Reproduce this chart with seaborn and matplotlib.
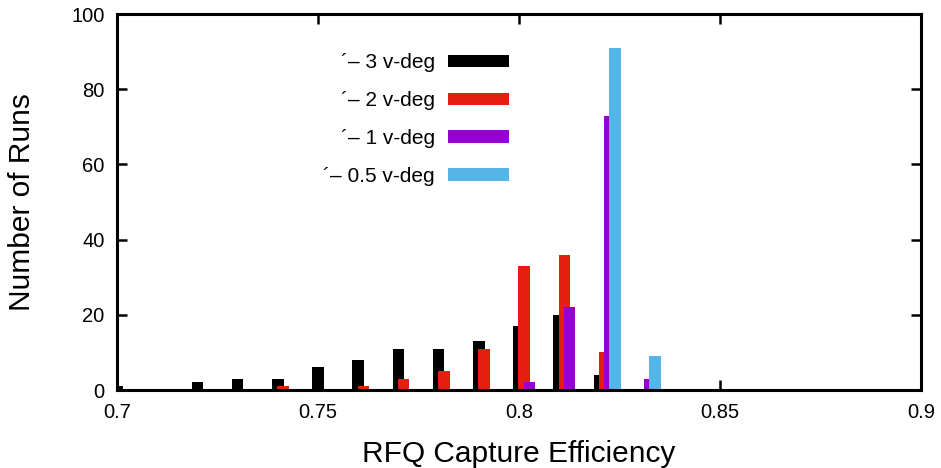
import numpy as np
import pandas as pd
import matplotlib
matplotlib.use("Agg")
import matplotlib.pyplot as plt
import seaborn as sns
from matplotlib.patches import Patch

# ── Data ────────────────────────────────────────────────────
eff_3deg = [0.70, 0.72, 0.73, 0.74, 0.75, 0.76, 0.77, 0.78, 0.79, 0.80, 0.81, 0.82]
runs_3deg = [1, 2, 3, 3, 6, 8, 11, 11, 13, 17, 20, 4]

eff_2deg = [0.74, 0.76, 0.77, 0.78, 0.79, 0.80, 0.81, 0.82]
runs_2deg = [1, 1, 3, 5, 11, 33, 36, 10]

eff_1deg = [0.80, 0.81, 0.82, 0.83]
runs_1deg = [2, 22, 73, 3]

eff_05deg = [0.82, 0.83]
runs_05deg = [91, 9]

labels = ["\u00b4\u2013 3 v-deg", "\u00b4\u2013 2 v-deg", "\u00b4\u2013 1 v-deg", "\u00b4\u2013 0.5 v-deg"]
colors = ["#000000", "#E51E10", "#9400D3", "#56B4E9"]

series = [(eff_3deg, runs_3deg), (eff_2deg, runs_2deg),
          (eff_1deg, runs_1deg), (eff_05deg, runs_05deg)]

# ── Style ───────────────────────────────────────────────────
sns.set_theme(style="white")
plt.rcParams["font.family"] = ["Liberation Sans", "DejaVu Sans"]
plt.rcParams["text.color"] = "black"
plt.rcParams["axes.labelcolor"] = "black"

fig = plt.figure(figsize=(9.41, 4.68), dpi=100)
ax = fig.add_axes([117 / 941, 78 / 468, 804 / 941, 376 / 468])

# each series shifted a little to the right, gnuplot-style overlap
shift = 0.0013
for i, ((x, y), col) in enumerate(zip(series, colors)):
    d = pd.DataFrame({"eff": np.array(x) + i * shift, "runs": y})
    sns.barplot(data=d, x="eff", y="runs", native_scale=True, width=0.29,
                color=col, saturation=1, linewidth=0, errorbar=None, ax=ax)

ax.set_xlim(0.7, 0.9)
ax.set_ylim(0, 100)
ax.set_xticks([0.7, 0.75, 0.8, 0.85, 0.9])
ax.set_xticklabels(["0.7", "0.75", "0.8", "0.85", "0.9"])
ax.set_yticks([0, 20, 40, 60, 80, 100])

for s in ax.spines.values():
    s.set_visible(True)
    s.set_color("black")
    s.set_linewidth(2.2)
ax.tick_params(direction="in", length=7, width=1.8, colors="black",
               labelsize=14.5, top=True, right=True, bottom=True, left=True)
ax.tick_params(axis="x", pad=9)
ax.tick_params(axis="y", pad=9)

ax.set_xlabel("RFQ Capture Efficiency", fontsize=21.5, labelpad=13)
ax.set_ylabel("Number of Runs", fontsize=21.5, labelpad=25)

handles = [Patch(facecolor=c, edgecolor="none") for c in colors]
ax.legend(handles, labels, loc="upper right", bbox_to_anchor=(0.4876, 0.895),
          frameon=False, markerfirst=False, fontsize=15, borderpad=0,
          handlelength=2.95, handleheight=0.55, handletextpad=0.6,
          labelspacing=0.9, borderaxespad=0)

plt.savefig("out.png", dpi=100)
